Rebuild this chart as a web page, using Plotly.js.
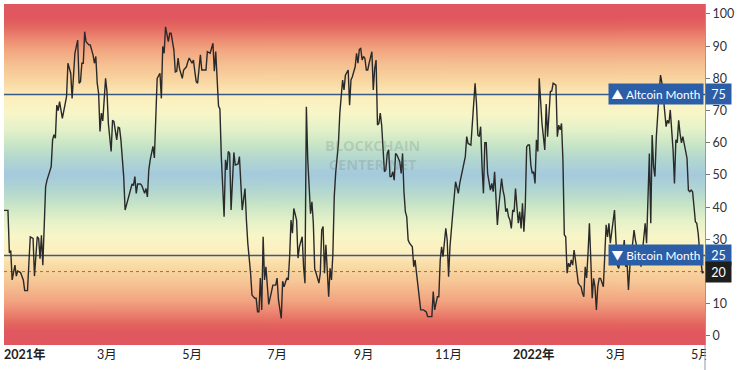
<!DOCTYPE html>
<html><head><meta charset="utf-8">
<script src="https://cdn.plot.ly/plotly-3.0.1.min.js"></script>
<style>html,body{margin:0;padding:0;background:#fff;}#chart{width:740px;height:370px;}</style>
</head><body><div id="chart"></div>
<script>
// ---- data: Altcoin Season Index (daily readings) ----
const months = ['2020-12','2021-01','2021-02','2021-03','2021-04','2021-05','2021-06','2021-07','2021-08','2021-09','2021-10','2021-11','2021-12','2022-01','2022-02','2022-03','2022-04','2022-05'];
const monthDays = [
  [17,20,21,22,23,25,26,27,29,31],
  [1,3,4,5,7,8,10,11,12,13,14,15,16,17,19,20,21,22,23,24,25,26,28,29,31],
  [1,3,4,5,6,8,9,10,11,12,13,14,16,17,19,20,21,22,23,24,25,26,28],
  [1,2,4,5,6,8,9,10,11,13,14,16,17,18,19,20,21,22,23,25,26,28,29,30,31],
  [1,3,4,5,6,8,9,10,11,12,14,15,16,18,19,20,21,22,24,25,27,28,29],
  [1,2,3,4,5,7,8,9,11,12,14,16,17,18,19,20,21,22,24,25,26,27,28,29,31],
  [1,3,4,6,7,8,9,10,12,13,15,16,17,18,19,20,21,22,23,24,25,27,28,30],
  [1,2,4,5,6,8,9,10,11,12,13,15,16,17,19,20,21,22,23,25,26,27,28,29,31],
  [1,2,3,4,5,6,7,8,9,10,11,12,14,15,16,17,18,19,21,22,23,24,26,27,28,29,30,31],
  [1,2,3,4,5,7,8,9,10,11,12,13,14,15,16,17,18,19,20,21,22,23,24,25,27,28,29,30],
  [1,2,3,4,6,7,8,9,10,12,14,16,17,20,21,22,24,25,26,27,28,30,31],
  [1,2,3,4,6,7,8,9,10,12,13,14,15,17,18,20,21,22,23,24,25,26,27,28,29,30],
  [1,2,3,4,5,6,7,8,9,10,11,12,13,14,15,16,17,18,19,20,21,22,23,24,25,26,27,28,29,30,31],
  [1,2,3,4,5,6,7,9,10,11,12,13,14,15,17,18,19,20,21,22,23,24,25,26,27,28,29,30,31],
  [1,2,3,4,5,6,7,8,9,10,11,12,13,14,15,16,17,18,20,21,22,23,24,25,26,27,28],
  [1,2,3,4,5,6,7,8,9,10,11,12,13,14,15,16,17,18,19,20,21,22,23,24,25,26,27,28,29,30,31],
  [1,2,3,4,5,6,7,8,9,10,11,12,13,14,15,16,17,18,19,20,21,22,23,24,25,26,27,28,29,30],
  [1,2,3]
];
const monthValues = [
  [39,39,25.8,26.5,17.4,22,18.6,20.2,19.7,17.4],
  [14.1,14.1,22.6,30.8,30.3,18.6,30.8,30.3,24,31.3,22,31.9,46.4,48.4,51,52.6,60.9,62.5,61.4,71.7,70,72.8,67.6,70,74.3],
  [84.7,81.6,73.8,80.5,87.8,91.9,78.5,79,84.7,84.7,94.5,91.4,90.4,90.4,87.3,84.7,86.8,78.5,75.4,63.5,69.2,66.8,80],
  [75.9,66,57.3,67,66.6,60.9,64.8,64.6,60.9,49.5,39.1,42.2,43.8,45.5,47.2,46.7,49.5,44.3,47.2,47.2,46.7,44.3,45.8,43.2,51.6],
  [54.7,58.9,55.3,67,80,81.6,73.8,89.9,87.8,96,91.4,94,94,88.8,82,82.2,86.3,83.1,80,82.6,83.6,85.2,86.3],
  [84.7,85.7,82.2,79,78.5,87.3,82.6,82.6,82.6,88.3,87.8,90.9,82.2,88.3,81.6,71.4,70.5,55.7,37,54.7,51.6,57.3,56.7,39.1,57],
  [53.1,53.4,55.7,39.1,43.3,45.8,36,28.8,19.5,12.7,11.7,11.7,7.5,7.5,18,8.1,30.8,17.4,21.5,13.8,9.8,13.8,15.8,15.8],
  [18,11.2,5.5,17,15.3,18,17.4,24.6,36,31.9,39.6,36,24.2,27.7,30.8,21.5,16.4,71.2,54.7,38,41.7,35,20.8,19.5,16.4],
  [19.5,32.9,34,19.5,28.3,19.5,12.2,21,17.4,25.2,43.2,50.5,59.8,69.2,75.4,79.5,76.4,81,82.6,71.7,79.5,80.5,83.6,87.8,84.7,89,89.3,85.7],
  [86.8,86.2,82.6,82.6,84.7,88.3,76.4,83,85.7,65.5,66,69.2,65.5,57.8,51,51.6,56.7,57.8,49.5,49.5,51,48.4,56.7,56.2,54.1,50.5,56.7,44.8],
  [38.6,37,29.8,28.8,27.7,21.5,23.6,19.5,15.3,8.1,8.1,7.5,6,6,13.8,8.1,12.2,12.2,23.6,27.7,24.6,33.4,29.8],
  [18.4,27.7,34,38.1,47.9,45.8,44.3,47.4,49.5,53.6,55.7,61.9,59.8,59.3,66,78.5,72.3,62.4,61.9,65,52.6,44.3,60,60,50.5,47.4],
  [45.3,47.4,44.8,51,44.3,34.5,40.2,45.3,48.9,45.3,43.3,38.6,39.6,37,36,33.4,39.1,38.6,45.8,40.2,35,38.6,33.4,41.2,32.4,40.2,58.8,59.3,59.3,53,50.5],
  [51,47.4,60.9,57.3,80,72,66,57.8,72,61.9,69.7,75.9,76.1,78.5,77.9,61.9,65.5,64,66,54.7,31.4,30.8,19.5,22.6,21.5,23.6,22,26.7,23.6],
  [20.5,16.4,15.8,15.3,13.3,12.2,21.5,18,25.7,35,23.6,11.7,17.9,15.3,8.1,15.3,17.9,17.9,15.3,24.6,34.5,30.8,35,28.8,31.9,36.5,39.1],
  [29.8,22,21,23.6,25.7,25.7,29.8,21.5,22.6,14.3,21.5,24.6,29.8,32.9,29.8,27.7,22.6,25.2,21.5,25.7,30,35,28.8,46.4,56.7,35,62.4,52.6,49.5,61.9,70.2],
  [75.4,81,78.5,74.3,70.2,65,67,66,70.2,65,57.8,47.4,60.9,60,67,62.9,60,61.9,60,57.3,55.2,45.3,44.8,45.3,44.8,40.2,35.5,35,31.9,26.7],
  [23.6,19.5,20]
];
const tickDates = ['2021-01-01','2021-03-01','2021-05-01','2021-07-01','2021-09-01','2021-11-01','2022-01-01','2022-03-01','2022-05-01'];
const tickLabels = ['<b>2021年</b>','3月','5月','7月','9月','11月','<b>2022年</b>','3月','5月'];
const yTicks = [0,10,20,30,40,50,60,70,80,90,100];
const altcoinLevel = 75, bitcoinLevel = 25, lastLevel = 20;
const altcoinLabel = '▲ Altcoin Month', bitcoinLabel = '▼ Bitcoin Month';
const watermark = '<b>BLOCKCHAIN</b><br><b>CENTER.NET</b>';

// ---- styling ----
const xRange = ['2020-12-17 03:36','2022-05-03 21:36'];
const yRange = [-2.8, 103.1];
// background colour by distance from the 50 line
const bgStops = [[0,'#a5cadc'],[5,'#b3d7d0'],[9,'#c6e4c6'],[14,'#e4f1c9'],[19,'#f8f6c8'],[24,'#fdefbf'],[29,'#f9d8a2'],[34,'#f6c293'],[39,'#f2a580'],[43,'#eb8370'],[46,'#e4675f'],[49,'#e0575f'],[56,'#e0575f']];
const FONT = 'Lato, Noto Sans CJK SC, sans-serif';
const BLUE = '#2c5ea8';

const pad = n => (n < 10 ? '0' : '') + n;
const dates = [], values = [];
months.forEach((m, i) => {
  monthDays[i].forEach((d, j) => { dates.push(m + '-' + pad(d)); values.push(monthValues[i][j]); });
});

function hex(c){return [parseInt(c.slice(1,3),16),parseInt(c.slice(3,5),16),parseInt(c.slice(5,7),16)];}
function colorAt(dist){
  for (let k = 0; k < bgStops.length - 1; k++) {
    const [a, ca] = bgStops[k], [b, cb] = bgStops[k+1];
    if (dist >= a && dist <= b) {
      const t = (dist - a) / (b - a), A = hex(ca), B = hex(cb);
      return 'rgb(' + A.map((v, q) => Math.round(v + (B[q] - v) * t)).join(',') + ')';
    }
  }
  return bgStops[bgStops.length-1][1];
}

// smooth vertical gradient image for the plot background
const cv = document.createElement('canvas');
cv.width = 4; cv.height = 1200;
const ctx = cv.getContext('2d');
const grad = ctx.createLinearGradient(0, 0, 0, cv.height);
const yTop = yRange[1], ySpan = yRange[1] - yRange[0];
for (let i = 0; i <= 100; i++) {
  const f = i / 100, v = yTop - f * ySpan;
  grad.addColorStop(f, colorAt(Math.abs(v - 50)));
}
ctx.fillStyle = grad;
ctx.fillRect(0, 0, cv.width, cv.height);

const shapes = [
  {type:'line', layer:'below', xref:'paper', x0:0, x1:1, yref:'y', y0:altcoinLevel, y1:altcoinLevel, line:{color:'#3a5a86', width:1.5}},
  {type:'line', layer:'below', xref:'paper', x0:0, x1:1, yref:'y', y0:bitcoinLevel, y1:bitcoinLevel, line:{color:'#3a5a86', width:1.5}},
  {type:'line', layer:'below', xref:'paper', x0:0, x1:1, yref:'y', y0:lastLevel, y1:lastLevel, line:{color:'#9a7440', width:1, dash:'dot'}},
  // white cover + axis line continuing into the date row (clips the last label like the original)
  {type:'rect', layer:'above', xref:'paper', x0:1.0015, x1:1.08, yref:'paper', y0:-0.09, y1:-0.002, fillcolor:'#ffffff', line:{width:0}},
  {type:'line', layer:'above', xref:'paper', x0:1, x1:1, yref:'paper', y0:-0.09, y1:0, line:{color:'#8a9bb3', width:1}}
];

const annotations = [
  {xref:'paper', x:1, xanchor:'right', xshift:-1, yref:'y', y:altcoinLevel, yanchor:'middle', text:altcoinLabel, showarrow:false,
   bgcolor:BLUE, borderpad:2.5, font:{family:FONT, size:11.8, color:'#fff'}},
  {xref:'paper', x:1, xanchor:'left', xshift:0, yref:'y', y:altcoinLevel, yanchor:'middle', text:String(altcoinLevel), showarrow:false,
   bgcolor:BLUE, borderpad:2.5, width:20, align:'center', font:{family:FONT, size:12.5, color:'#fff'}},
  {xref:'paper', x:1, xanchor:'right', xshift:-1, yref:'y', y:bitcoinLevel, yanchor:'middle', text:bitcoinLabel, showarrow:false,
   bgcolor:BLUE, borderpad:2.5, font:{family:FONT, size:11.8, color:'#fff'}},
  {xref:'paper', x:1, xanchor:'left', xshift:0, yref:'y', y:bitcoinLevel, yanchor:'middle', text:String(bitcoinLevel), showarrow:false,
   bgcolor:BLUE, borderpad:2.5, width:20, align:'center', font:{family:FONT, size:12.5, color:'#fff'}},
  {xref:'paper', x:1, xanchor:'left', xshift:0, yref:'y', y:lastLevel, yanchor:'middle', text:String(lastLevel), showarrow:false,
   bgcolor:'#1e1e1e', borderpad:2.5, width:20, align:'center', font:{family:FONT, size:12.5, color:'#fff'}},
  {xref:'paper', x:0.525, yref:'paper', y:0.556, xanchor:'center', yanchor:'middle', text:watermark, showarrow:false,
   font:{family:'Open Sans, sans-serif', size:14.5, color:'rgba(100,115,125,0.22)'}}
];

const trace = {type:'scatter', mode:'lines', x:dates, y:values, line:{color:'#2a2a2a', width:1.4}, hoverinfo:'skip'};

const layout = {
  width:740, height:370,
  margin:{l:4, r:35, t:4, b:25, pad:0},
  paper_bgcolor:'#ffffff', plot_bgcolor:'#ffffff',
  showlegend:false, hovermode:false,
  font:{family:FONT, size:12, color:'#333'},
  images:[{source:cv.toDataURL(), xref:'paper', yref:'y', x:0, y:yRange[1], sizex:1, sizey:ySpan,
    xanchor:'left', yanchor:'top', sizing:'stretch', layer:'below'}],
  xaxis:{type:'date', range:xRange, tickmode:'array', tickvals:tickDates, ticktext:tickLabels,
    showgrid:false, zeroline:false, showline:false, ticks:'', tickfont:{family:FONT, size:12.5, color:'#222'}, fixedrange:true},
  yaxis:{range:yRange, side:'right', tickmode:'array', tickvals:yTicks, ticks:'outside', ticklen:4, tickcolor:'#777',
    showline:true, linecolor:'#8a9bb3', linewidth:1, showgrid:false, zeroline:false,
    tickfont:{family:FONT, size:12.5, color:'#333'}, fixedrange:true},
  shapes:shapes, annotations:annotations
};

Plotly.newPlot('chart', [trace], layout, {staticPlot:true, displayModeBar:false});
</script></body></html>
